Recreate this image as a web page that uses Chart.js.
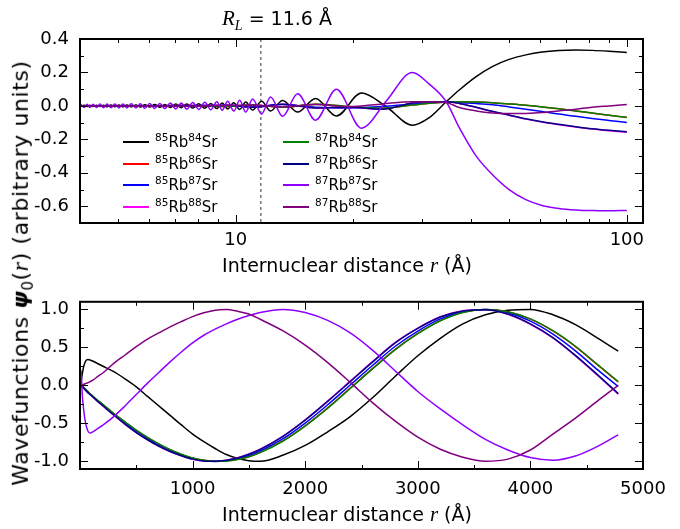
<!DOCTYPE html>
<html>
<head>
<meta charset="utf-8">
<script src="https://cdn.jsdelivr.net/npm/chart.js@4.4.1/dist/chart.umd.min.js"></script>
<style>
  body { margin: 0; background: #fff; font-family: "DejaVu Sans", sans-serif; color: #000; }
  #wrap { position: relative; width: 680px; height: 529px; overflow: hidden; }
  canvas { position: absolute; left: 0; }
  .txt { position: absolute; white-space: nowrap; font-size: 19px; line-height: 1; }
  .mi { font-family: "Liberation Serif", serif; font-style: italic; font-size: 21px; }
  .anchor { position: absolute; width: 0; height: 0; }
  .anchor > div { position: absolute; left: 0; top: 0; display: block; white-space: nowrap; font-size: 19px; line-height: 1;
    transform: translate(-50%, -50%); }
  #ylab > div { transform: translate(-50%, -50%) rotate(-90deg); font-size: 22px; letter-spacing: 0.6px; }
  #ylab .mi { font-size: 24px; }
  .leg { position: absolute; height: 0; }
  .leg .sw { position: absolute; top: -1px; width: 26px; border-top: 2px solid #000; }
  .leg .lt { position: absolute; left: 32px; top: -10px; font-size: 15px; line-height: 20px; white-space: nowrap; }
  .leg sup { font-size: 10.5px; vertical-align: 6px; line-height: 0; }
</style>
</head>
<body>
<div id="wrap">
  <canvas id="topChart" width="680" height="280" style="top:0"></canvas>
  <canvas id="bottomChart" width="680" height="249" style="top:280px"></canvas>
  <div class="txt" style="left:222px; top:8px;"><span class="mi">R<sub style="font-size:14px">L</sub></span> = 11.6 Å</div>
  <div class="anchor" style="left:347px; top:265px;"><div>Internuclear distance <span class="mi">r</span> (Å)</div></div>
  <div class="anchor" style="left:347px; top:514px;"><div>Internuclear distance <span class="mi">r</span> (Å)</div></div>
  <div class="anchor" id="ylab" style="left:22px; top:273px;"><div>Wavefunctions <b><i>ψ</i></b><sub style="font-size:15px">0</sub>(<span class="mi">r</span>) (arbitrary units)</div></div>
  <div id="legend"></div>
</div>
<script>
// isotopologues, in legend order
const rbMass = [85, 85, 85, 85, 87, 87, 87, 87];
const srMass = [84, 86, 87, 88, 84, 86, 87, 88];
const lineColors = ['#000000', '#ff0000', '#0000ff', '#ff00ff', '#008000', '#000080', '#8f00ff', '#800080'];
const lossRadius = 11.6;

// top panel: r in Angstrom (log axis)
const topRFine = [4.02, 4.10, 4.17, 4.24, 4.32, 4.41, 4.50, 4.59, 4.69, 4.80, 4.91, 5.03, 5.15, 5.27, 5.41, 5.56,
  5.71, 5.86, 6.03, 6.21, 6.40, 6.59, 6.81, 7.03, 7.26, 7.50, 7.77, 8.05, 8.34, 8.64, 8.95, 9.24,
  9.54, 9.89, 10.24, 10.61, 11.05, 11.65, 12.28, 13.18, 14.40, 16.00, 18.10, 20.96, 24.28, 28.28, 31.26, 34.54,
  37.3, 41.2, 45.3, 50.0, 55.2, 60.7, 67.0, 74.1, 81.5, 90.0, 100];
const topBlack = [-0.004, 0.004, -0.004, 0.004, -0.004, 0.004, -0.004, 0.004, -0.005, 0.005, -0.005, 0.005, -0.006, 0.006, -0.006, 0.006,
  -0.007, 0.007, -0.007, 0.008, -0.008, 0.009, -0.010, 0.011, -0.011, 0.012, -0.013, 0.013, -0.014, 0.015, -0.016, 0.017,
  -0.018, 0.019, -0.021, 0.023, -0.025, 0.028, -0.030, 0.033, -0.037, 0.045, -0.060, 0.077, -0.005, -0.115, -0.07, 0.025,
  0.095, 0.175, 0.235, 0.278, 0.305, 0.322, 0.331, 0.334, 0.332, 0.327, 0.32];
const topPurple = [0.009, -0.009, 0.010, -0.010, 0.010, -0.010, 0.011, -0.011, 0.011, -0.011, 0.012, -0.012, 0.012, -0.012, 0.013, -0.013,
  0.013, -0.014, 0.014, -0.015, 0.015, -0.016, 0.017, -0.018, 0.018, -0.019, 0.020, -0.021, 0.022, -0.023, 0.025, -0.026,
  0.028, -0.031, 0.034, -0.037, 0.042, -0.048, 0.053, -0.062, 0.072, -0.085, 0.10, -0.133, 0.03, 0.20, 0.13, 0.025,
  -0.13, -0.30, -0.41, -0.50, -0.56, -0.595, -0.613, -0.622, -0.626, -0.627, -0.625];
const topRCoarse = [4.0, 5.36, 7.20, 9.54, 11.05, 13.18, 16.0, 19.54, 23.72, 28.28, 31.26, 34.54,
  37.3, 41.2, 45.3, 50.0, 55.2, 60.7, 67.0, 74.1, 81.5, 90.0, 100];
const topRed = [0, 0, 0.002, -0.003, 0.006, -0.008, 0.01, -0.004, -0.014, 0.005, 0.016, 0.024,
  0.025, 0.023, 0.019, 0.012, 0.004, -0.006, -0.017, -0.03, -0.043, -0.056, -0.068];
const topBlue = [0, 0, -0.002, 0.003, -0.006, 0.008, -0.008, -0.012, -0.004, 0.012, 0.02, 0.024,
  0.019, 0.014, 0.007, -0.006, -0.02, -0.034, -0.049, -0.062, -0.075, -0.087, -0.099];
const topMagenta = [0, 0, 0.002, 0.004, -0.008, 0.01, -0.012, -0.008, -0.02, 0.018, 0.025, 0.025,
  0.014, -0.009, -0.034, -0.056, -0.079, -0.097, -0.112, -0.126, -0.138, -0.148, -0.157];
const topGreen = [0, 0, 0.002, -0.003, 0.006, -0.008, 0.01, -0.004, -0.014, 0.005, 0.016, 0.024,
  0.025, 0.023, 0.019, 0.012, 0.004, -0.006, -0.017, -0.03, -0.043, -0.056, -0.069];
const topNavy = [0, 0, 0.002, 0.004, -0.008, 0.01, -0.012, -0.008, -0.02, 0.018, 0.025, 0.025,
  0.015, -0.008, -0.032, -0.054, -0.077, -0.095, -0.11, -0.124, -0.136, -0.146, -0.155];
const topDarkPurple = [0, 0, -0.002, 0.003, 0.005, -0.006, 0.008, -0.005, 0.012, 0.025, 0.025, 0.02,
  -0.01, -0.03, -0.042, -0.046, -0.045, -0.04, -0.03, -0.02, -0.008, 0.0, 0.008];

// bottom panel: r in Angstrom (linear axis)
const botR = [0, 10, 20, 35, 50, 70, 90, 120, 160, 200, 300, 400, 500, 600, 700, 800, 900, 1000, 1100, 1200,
  1300, 1400, 1500, 1600, 1800, 2000, 2200, 2400, 2600, 2800, 3000, 3200, 3400, 3600, 3800, 4000, 4200, 4400, 4600, 4780];
const botBlack = [0, 0.06, 0.15, 0.26, 0.32, 0.34, 0.335, 0.315, 0.285, 0.255, 0.18, 0.085, -0.02, -0.145, -0.27, -0.395, -0.52, -0.64, -0.74, -0.83,
  -0.91, -0.96, -0.99, -0.998, -0.92, -0.79, -0.61, -0.41, -0.16, 0.12, 0.39, 0.62, 0.81, 0.93, 0.99, 1.0, 0.93, 0.8, 0.62, 0.45];
const botRed = [0, 0.006, -0.004, -0.031, -0.052, -0.082, -0.112, -0.152, -0.202, -0.247, -0.372, -0.482, -0.592, -0.687, -0.772, -0.847, -0.907, -0.956, -0.986, -0.999,
  -0.994, -0.973, -0.938, -0.882, -0.731, -0.531, -0.296, -0.036, 0.224, 0.474, 0.684, 0.853, 0.962, 1.0, 0.968, 0.872, 0.716, 0.51, 0.265, 0.045];
const botBlue = [0, 0.01, -0.01, -0.035, -0.057, -0.088, -0.115, -0.155, -0.207, -0.255, -0.38, -0.495, -0.605, -0.70, -0.785, -0.858, -0.915, -0.963, -0.99, -1.0,
  -0.99, -0.965, -0.923, -0.864, -0.705, -0.496, -0.255, 0.005, 0.265, 0.515, 0.715, 0.875, 0.97, 0.999, 0.955, 0.845, 0.675, 0.455, 0.2, -0.015];
const botMagenta = [0, 0.01, -0.01, -0.04, -0.066, -0.096, -0.121, -0.162, -0.217, -0.267, -0.392, -0.512, -0.622, -0.717, -0.802, -0.872, -0.927, -0.971, -0.996, -0.999,
  -0.984, -0.952, -0.903, -0.84, -0.67, -0.452, -0.204, 0.056, 0.316, 0.565, 0.754, 0.903, 0.982, 0.996, 0.937, 0.805, 0.624, 0.388, 0.127, -0.116];
const botGreen = [0, 0.005, -0.005, -0.03, -0.05, -0.08, -0.11, -0.15, -0.2, -0.245, -0.37, -0.48, -0.59, -0.685, -0.77, -0.845, -0.905, -0.955, -0.985, -0.999,
  -0.995, -0.975, -0.94, -0.885, -0.735, -0.535, -0.3, -0.04, 0.22, 0.47, 0.68, 0.85, 0.96, 1.0, 0.97, 0.875, 0.72, 0.515, 0.27, 0.05];
const botNavy = [0, 0.01, -0.01, -0.04, -0.065, -0.095, -0.12, -0.16, -0.215, -0.265, -0.39, -0.51, -0.62, -0.715, -0.80, -0.87, -0.925, -0.97, -0.995, -0.999,
  -0.985, -0.954, -0.906, -0.843, -0.674, -0.457, -0.21, 0.05, 0.31, 0.56, 0.75, 0.90, 0.98, 0.997, 0.94, 0.81, 0.63, 0.395, 0.135, -0.108];
const botPurple = [0, 0.2, -0.12, -0.35, -0.5, -0.6, -0.626, -0.605, -0.565, -0.525, -0.41, -0.27, -0.12, 0.03, 0.17, 0.31, 0.44, 0.56, 0.66, 0.74,
  0.81, 0.87, 0.92, 0.96, 1.0, 0.96, 0.855, 0.69, 0.46, 0.19, -0.08, -0.31, -0.52, -0.71, -0.85, -0.95, -0.985, -0.93, -0.8, -0.65];
const botDarkPurple = [0, -0.02, 0.0, 0.015, 0.025, 0.035, 0.05, 0.075, 0.12, 0.16, 0.29, 0.40, 0.51, 0.61, 0.69, 0.77, 0.84, 0.905, 0.955, 0.99,
  0.998, 0.975, 0.94, 0.87, 0.72, 0.53, 0.30, 0.04, -0.23, -0.47, -0.68, -0.84, -0.945, -0.998, -0.97, -0.85, -0.64, -0.43, -0.2, 0.0];

// axis ticks
const topXMajor = [10, 100];
const topXMinor = [5, 6, 7, 8, 9, 20, 30, 40, 50, 60, 70, 80, 90];
const topYMajor = [-0.6, -0.4, -0.2, 0, 0.2, 0.4];
const topYMinor = [-0.7, -0.5, -0.3, -0.1, 0.1, 0.3];
const botXMajor = [1000, 2000, 3000, 4000, 5000];
const botXMinor = [500, 1500, 2500, 3500, 4500];
const botYMajor = [-1, -0.5, 0, 0.5, 1];
const botYMinor = [-0.75, -0.25, 0.25, 0.75];

const topSeries = [
  [topRFine, topBlack], [topRCoarse, topRed], [topRCoarse, topBlue], [topRCoarse, topMagenta],
  [topRCoarse, topGreen], [topRCoarse, topNavy], [topRFine, topPurple], [topRCoarse, topDarkPurple]
];
const botSeries = [botBlack, botRed, botBlue, botMagenta, botGreen, botNavy, botPurple, botDarkPurple];

const labelFont = { family: '"DejaVu Sans", sans-serif', size: 18 };

// frame round the plot area, inward ticks on all four sides, optional dashed marker
const frameTicks = {
  id: 'frameTicks',
  beforeDatasetsDraw(chart, args, opts) {
    if (opts.marker === undefined) return;
    const { ctx, chartArea: a } = chart;
    const px = chart.scales.x.getPixelForValue(opts.marker);
    ctx.save();
    ctx.strokeStyle = '#333';
    ctx.lineWidth = 1;
    ctx.setLineDash([3, 3]);
    ctx.beginPath();
    ctx.moveTo(px, a.top);
    ctx.lineTo(px, a.bottom);
    ctx.stroke();
    ctx.restore();
  },
  afterDatasetsDraw(chart, args, opts) {
    const { ctx, chartArea: a } = chart;
    const x = chart.scales.x, y = chart.scales.y;
    ctx.save();
    ctx.strokeStyle = '#000';
    ctx.lineWidth = 1;
    const seg = (x1, y1, x2, y2) => { ctx.beginPath(); ctx.moveTo(x1, y1); ctx.lineTo(x2, y2); ctx.stroke(); };
    const xTicks = (vals, len) => vals.forEach(v => {
      const p = Math.round(x.getPixelForValue(v)) + 0.5;
      seg(p, a.bottom, p, a.bottom - len);
      seg(p, a.top, p, a.top + len);
    });
    const yTicks = (vals, len) => vals.forEach(v => {
      const p = Math.round(y.getPixelForValue(v)) + 0.5;
      seg(a.left, p, a.left + len, p);
      seg(a.right, p, a.right - len, p);
    });
    xTicks(opts.xMajor, 8); xTicks(opts.xMinor, 4);
    yTicks(opts.yMajor, 8); yTicks(opts.yMinor, 4);
    ctx.lineWidth = 2;
    ctx.strokeRect(a.left, a.top, a.right - a.left, a.bottom - a.top);
    ctx.restore();
  }
};

function axis(type, min, max, ticks, fmt, fit, pad) {
  return {
    type: type, min: min, max: max,
    grid: { display: false, drawTicks: false },
    border: { display: false },
    afterBuildTicks: s => { s.ticks = ticks.map(v => ({ value: v })); },
    afterFit: fit,
    ticks: { callback: fmt, font: labelFont, color: '#000', padding: pad, autoSkip: false, maxRotation: 0 }
  };
}

function datasets(pointsFor) {
  return rbMass.map((rb, i) => ({
    label: rb + 'Rb' + srMass[i] + 'Sr',
    data: pointsFor(i),
    borderColor: lineColors[i],
    borderWidth: 1.5,
    pointRadius: 0,
    fill: false,
    cubicInterpolationMode: 'monotone',
    order: rbMass.length - 1 - i
  }));
}

function baseOptions(padTop, xScale, yScale, plugOpts) {
  return {
    responsive: false,
    animation: false,
    events: [],
    layout: { padding: { left: 0, right: 37, top: padTop, bottom: 0 } },
    scales: { x: xScale, y: yScale },
    plugins: { legend: { display: false }, tooltip: { enabled: false }, frameTicks: plugOpts }
  };
}

new Chart(document.getElementById('topChart'), {
  type: 'line',
  data: {
    datasets: datasets(i => topSeries[i][0].map((r, k) => ({ x: r, y: topSeries[i][1][k] })))
  },
  options: baseOptions(39,
    axis('logarithmic', 4, 110, topXMajor, v => String(v), s => { s.height = 57; }, 7),
    axis('linear', -0.7, 0.4, topYMajor, v => v.toFixed(1), s => { s.width = 80; }, 11),
    { xMajor: topXMajor, xMinor: topXMinor, yMajor: topYMajor, yMinor: topYMinor, marker: lossRadius }),
  plugins: [frameTicks]
});

new Chart(document.getElementById('bottomChart'), {
  type: 'line',
  data: {
    datasets: datasets(i => botR.map((r, k) => ({ x: r, y: botSeries[i][k] })))
  },
  options: baseOptions(5,
    axis('linear', 0, 5000, botXMajor, v => String(v), s => { s.height = 60; }, 10),
    axis('linear', -1.1, 1.1, botYMajor, v => v.toFixed(1), s => { s.width = 80; }, 11),
    { xMajor: botXMajor, xMinor: botXMinor, yMajor: botYMajor, yMinor: botYMinor }),
  plugins: [frameTicks]
});

// legend inside the top panel, two columns of four
const legend = document.getElementById('legend');
rbMass.forEach((rb, i) => {
  const col = Math.floor(i / 4), row = i % 4;
  const item = document.createElement('div');
  item.className = 'leg';
  item.style.left = (col ? 283 : 123) + 'px';
  item.style.top = (142 + row * 21.5) + 'px';
  item.innerHTML = '<span class="sw" style="border-color:' + lineColors[i] + '"></span>' +
    '<span class="lt"><sup>' + rb + '</sup>Rb<sup>' + srMass[i] + '</sup>Sr</span>';
  legend.appendChild(item);
});
</script>
</body>
</html>
